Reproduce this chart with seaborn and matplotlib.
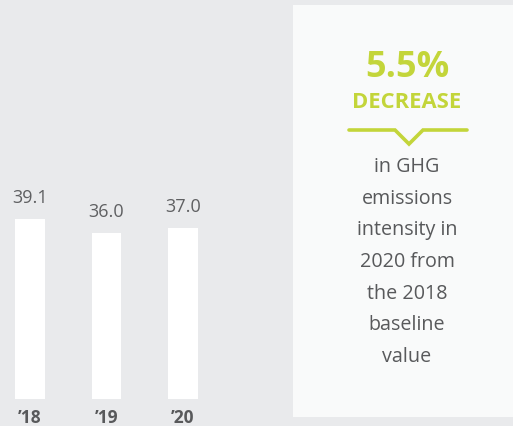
import matplotlib
matplotlib.use("Agg")
import matplotlib.pyplot as plt
import seaborn as sns
import pandas as pd
from matplotlib.patches import Rectangle
from matplotlib.lines import Line2D

years = ["\u201918", "\u201919", "\u201920"]
values = [39.1, 36.0, 37.0]
value_labels = ["39.1", "36.0", "37.0"]
headline = "5.5%"
subhead = "DECREASE"
desc_lines = ["in GHG", "emissions", "intensity in", "2020 from", "the 2018", "baseline", "value"]

BG = "#e9eaec"
PANEL = "#f9fafa"
GREEN = "#c3d53a"
GRAY = "#58595b"

sns.set_theme(style="white")
plt.rcParams['font.family'] = ['Open Sans', 'DejaVu Sans']

W, H = 513, 427
fig = plt.figure(figsize=(W / 100, H / 100), dpi=100)
fig.patch.set_facecolor(BG)

df = pd.DataFrame({"year": years, "value": values})

# axes: x 0..290 px, y from 400 px (baseline) to top
ax = fig.add_axes([0, 27 / H, 290 / W, 400 / H])
ax.set_facecolor("none")
sns.barplot(data=df, x="year", y="value", color="white", width=0.39,
            saturation=1, ax=ax, edgecolor="none")
px_per_unit = 4.61
ax.set_ylim(0, 400 / px_per_unit)
step = 76.5
ax.set_xlim(-30 / step, (290 - 30) / step)
for s in ax.spines.values():
    s.set_visible(False)
ax.set_yticks([])
ax.set_xlabel("")
ax.set_ylabel("")
ax.set_xticks([])

for i, (v, lab) in enumerate(zip(values, value_labels)):
    ax.annotate(lab, (i, v), xytext=(0, 22), textcoords="offset pixels",
                ha="center", va="center", fontsize=13, color="#5f6062")
    ax.annotate(years[i], (i, 0), xytext=(0, -18), textcoords="offset pixels",
                ha="center", va="center", fontsize=12.5, color=GRAY,
                fontweight="bold")

# panel
fig.add_artist(Rectangle((293 / W, 9 / H), (W - 293) / W, 412 / H,
                         transform=fig.transFigure, facecolor=PANEL,
                         edgecolor="none", zorder=0))

cx = 407 / W
fig.text(cx, 1 - 68 / H, headline, ha="center", va="center", fontsize=26,
         fontweight="bold", color=GREEN)
fig.text(cx, 1 - 102 / H, subhead, ha="center", va="center", fontsize=15.8,
         fontweight="bold", color=GREEN)

xs = [349, 395, 409, 423, 467]
ys = [131, 131, 145, 131, 131]
fig.add_artist(Line2D([x / W for x in xs], [1 - y / H for y in ys],
                      transform=fig.transFigure, color=GREEN, lw=2.6,
                      solid_joinstyle="miter"))

y0 = 167
for k, line in enumerate(desc_lines):
    fig.text(cx, 1 - (y0 + k * 31.7) / H, line, ha="center", va="center",
             fontsize=14.2, color=GRAY)

fig.savefig("out.png", dpi=100, facecolor=BG)
